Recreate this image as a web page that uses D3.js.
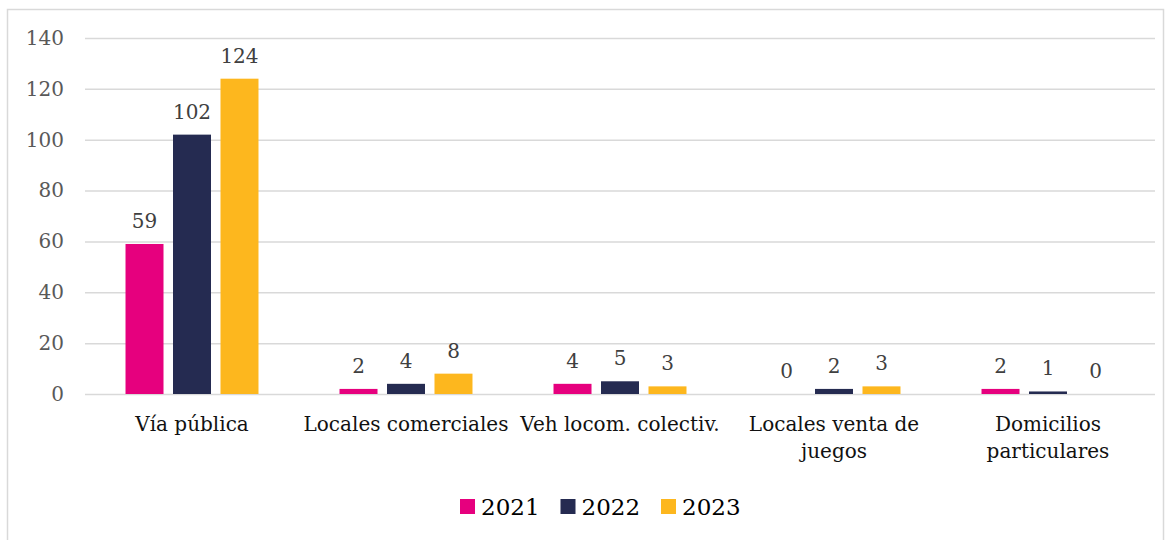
<!DOCTYPE html>
<html>
<head>
<meta charset="utf-8">
<script src="https://cdn.jsdelivr.net/npm/d3@7"></script>
<style>
  body { margin: 0; background: #fff; }
  text { font-family: "DejaVu Serif", serif; }
</style>
</head>
<body>
<script>
// datos
const categories = ["Vía pública", "Locales comerciales", "Veh locom. colectiv.", "Locales venta de juegos", "Domicilios particulares"];
const years = ["2021", "2022", "2023"];
const values2021 = [59, 2, 4, 0, 2];
const values2022 = [102, 4, 5, 2, 1];
const values2023 = [124, 8, 3, 3, 0];
const yTicks = [0, 20, 40, 60, 80, 100, 120, 140];
const colors = ["#e6007e", "#252b51", "#fdb71e"];

const series = [values2021, values2022, values2023];
const rows = categories.map((c, i) => ({ cat: c, vals: years.map((y, j) => ({ year: y, v: series[j][i], k: j })) }));

const width = 1172, height = 540;
let svg = d3.select("body").append("svg")
  .attr("width", width)
  .attr("height", height);

// marco
svg.append("rect")
  .attr("x", 7.5).attr("y", 9.5)
  .attr("width", 1156).attr("height", 560)
  .attr("fill", "none")
  .attr("stroke", "#d9d9d9")
  .attr("stroke-width", 1.5);

let x0 = d3.scaleBand().domain(categories).range([85, 1155]);
let x1 = d3.scaleBand().domain(years).range([0, x0.bandwidth()])
  .paddingInner(0.2).paddingOuter(0.853);
let y = d3.scaleLinear().domain([0, 140]).range([394, 38]);

// grid
svg.append("g")
  .selectAll("line")
  .data(yTicks)
  .enter().append("line")
  .attr("x1", 85).attr("x2", 1155)
  .attr("y1", d => y(d) + 0.5).attr("y2", d => y(d) + 0.5)
  .attr("stroke", "#d9d9d9")
  .attr("stroke-width", 1.5);

// eje y
let yAxis = svg.append("g")
  .attr("transform", "translate(64,0)")
  .call(d3.axisLeft(y).tickValues(yTicks).tickSize(0).tickPadding(0));
yAxis.select(".domain").remove();
yAxis.selectAll("text")
  .style("font-family", "DejaVu Serif")
  .style("font-size", "20px")
  .attr("fill", "#595959");

// barras
let groups = svg.append("g")
  .selectAll("g")
  .data(rows)
  .enter().append("g")
  .attr("transform", d => "translate(" + x0(d.cat) + ",0)");

groups.selectAll("rect")
  .data(d => d.vals)
  .enter().append("rect")
  .attr("x", d => x1(d.year))
  .attr("width", x1.bandwidth())
  .attr("y", d => y(d.v))
  .attr("height", d => y(0) - y(d.v))
  .attr("fill", d => colors[d.k]);

groups.selectAll("text")
  .data(d => d.vals)
  .enter().append("text")
  .attr("x", d => x1(d.year) + x1.bandwidth() / 2)
  .attr("y", d => y(d.v) - 16)
  .attr("text-anchor", "middle")
  .style("font-size", "20px")
  .attr("fill", "#404040")
  .text(d => d.v);

// etiquetas de categoria
let catLabels = svg.append("g")
  .selectAll("text")
  .data(categories)
  .enter().append("text")
  .attr("x", d => x0(d) + x0.bandwidth() / 2)
  .attr("y", 431)
  .attr("text-anchor", "middle")
  .style("font-size", "20px")
  .attr("fill", "#111")
  .text(d => d);

catLabels.each(function (d) {
  let t = d3.select(this);
  let maxW = x0.bandwidth() + 6;
  if (this.getComputedTextLength() <= maxW) return;
  let words = d.split(" ");
  t.text(null);
  let line = [];
  let ts = t.append("tspan").attr("x", t.attr("x")).attr("dy", 0);
  words.forEach(w => {
    line.push(w);
    ts.text(line.join(" "));
    if (ts.node().getComputedTextLength() > maxW && line.length > 1) {
      line.pop();
      ts.text(line.join(" "));
      line = [w];
      ts = t.append("tspan").attr("x", t.attr("x")).attr("dy", 27).text(w);
    }
  });
});

// leyenda
let legend = svg.append("g")
  .selectAll("g")
  .data(years)
  .enter().append("g")
  .attr("transform", (d, i) => "translate(" + (460 + i * 100.5) + ",499)");

legend.append("rect")
  .attr("width", 15).attr("height", 15)
  .attr("fill", (d, i) => colors[i]);

legend.append("text")
  .attr("x", 21)
  .attr("y", 15.5)
  .style("font-size", "23px")
  .attr("fill", "#000")
  .text(d => d);
</script>
</body>
</html>
